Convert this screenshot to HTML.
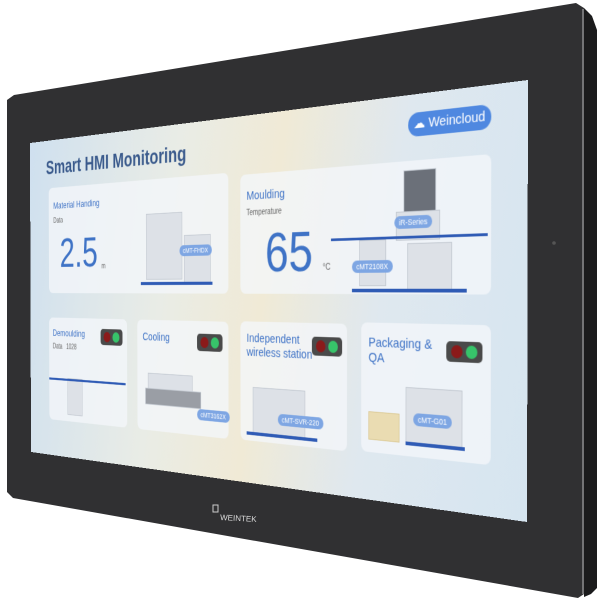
<!DOCTYPE html>
<html><head><meta charset="utf-8"><style>
html,body{margin:0;padding:0;background:#fff;}
#wrap{position:relative;width:600px;height:600px;overflow:hidden;}
svg.frame{position:absolute;left:0;top:0;}
#scr{position:absolute;left:0;top:0;width:800px;height:450px;transform-origin:0 0;
transform:matrix3d(0.42354,-0.1089,0,-0.00037681, 0.002458,0.69011,0,0.00000761, 0,0,1,0, 30,143,0,1);
background:linear-gradient(100deg,#cfe0ef 0%,#e9ece6 35%,#f0ead6 55%,#dfe8ef 75%,#d6e5f0 100%);
font-family:"Liberation Sans",sans-serif;overflow:hidden;}
.card{position:absolute;background:rgba(243,246,250,0.78);border-radius:8px;}
.t{position:absolute;color:#3f73c6;font-size:15px;}
.s{position:absolute;color:#666;font-size:10px;}
.big{position:absolute;color:#3f73c6;font-weight:300;}
.tl{position:absolute;width:44px;height:22px;background:#4a4a4a;border-radius:5px;}
.tl i{position:absolute;top:4px;width:14px;height:14px;border-radius:50%;}
.tl i.r{left:6px;background:#8b1a1a;}
.tl i.g{left:24px;background:#37c46a;}
.m{position:absolute;background:#dde1e7;border:1px solid #c4cad2;}
.bl{position:absolute;background:#2f5bb5;height:4px;}
.tag{position:absolute;background:#7ea6e3;color:#fff;font-size:9px;border-radius:8px;padding:2px 6px;}
</style></head><body><div id="wrap">
<svg class="frame" width="600" height="600">
<polygon points="584,8 592,16 597,30 597,588 591,594 584,597" fill="#1b1b1c"/>
<polygon points="7,100 14,95 576,3 584,8 584,594 578,598 13,498 7,492" fill="#303032"/>
<line x1="583" y1="9" x2="583" y2="594" stroke="#8a8a8c" stroke-width="1.5"/>
<circle cx="554" cy="243" r="1.8" fill="#555"/>
<rect x="213" y="505" width="5" height="7" fill="none" stroke="#ccc" stroke-width="1"/>
<text x="220" y="520" font-family="Liberation Sans" font-size="8" fill="#ddd" transform="rotate(3 220 520)">WEINTEK</text>
</svg>
<div id="scr">
<div style="position:absolute;left:36px;top:24px;font-size:27px;font-weight:bold;color:#3a5a8c;">Smart HMI Monitoring</div>
<div style="position:absolute;left:655px;top:20px;width:103px;height:26px;border-radius:13px;background:#4f88e0;color:#fff;font-size:15px;line-height:26px;text-align:center;">☁ Weincloud</div>

<div class="card" style="left:42px;top:68px;width:347px;height:150px;">
<div class="t" style="left:10px;top:18px;font-size:13px;">Material Handing</div>
<div class="s" style="left:10px;top:42px;">Data</div>
<div class="big" style="left:24px;top:60px;font-size:58px;">2.5</div>
<div class="s" style="left:112px;top:108px;">m</div>
<div class="m" style="left:200px;top:45px;width:65px;height:85px;"></div>
<div class="m" style="left:270px;top:75px;width:45px;height:60px;"></div>
<div class="bl" style="left:190px;top:135px;width:130px;"></div>
<div class="tag" style="left:262px;top:88px;">cMT-FHDX</div>
</div>

<div class="card" style="left:409px;top:72px;width:349px;height:146px;">
<div class="t" style="left:10px;top:18px;">Moulding</div>
<div class="s" style="left:10px;top:42px;">Temperature</div>
<div class="big" style="left:40px;top:58px;font-size:66px;">65</div>
<div class="s" style="left:128px;top:110px;">°C</div>
<div class="m" style="left:240px;top:10px;width:40px;height:45px;background:#6b7079;"></div>
<div class="m" style="left:230px;top:55px;width:55px;height:30px;"></div>
<div class="m" style="left:180px;top:85px;width:35px;height:50px;"></div>
<div class="m" style="left:245px;top:90px;width:55px;height:50px;"></div>
<div class="bl" style="left:140px;top:82px;width:205px;height:3px;"></div>
<div class="bl" style="left:170px;top:140px;width:150px;"></div>
<div class="tag" style="left:228px;top:60px;">iR-Series</div>
<div class="tag" style="left:170px;top:108px;">cMT2108X</div>
</div>

<div class="card" style="left:42px;top:253px;width:163px;height:146px;">
<div class="t" style="left:8px;top:14px;font-size:13px;">Demoulding</div>
<div class="s" style="left:8px;top:36px;">Data &nbsp; 1028</div>
<div class="tl" style="left:110px;top:14px;"><i class="r"></i><i class="g"></i></div>
<div class="m" style="left:40px;top:85px;width:30px;height:50px;"></div>
<div class="bl" style="left:0px;top:86px;width:160px;height:3px;"></div>
</div>
<div class="card" style="left:225px;top:253px;width:164px;height:146px;">
<div class="t" style="left:10px;top:14px;">Cooling</div>
<div class="tl" style="left:110px;top:16px;"><i class="r"></i><i class="g"></i></div>
<div class="m" style="left:20px;top:70px;width:80px;height:20px;"></div>
<div class="m" style="left:15px;top:90px;width:100px;height:20px;background:#9a9ea5;"></div>
<div class="tag" style="left:110px;top:112px;">cMT3162X</div>
</div>
<div class="card" style="left:409px;top:252px;width:163px;height:146px;">
<div class="t" style="left:10px;top:12px;">Independent<br>wireless station</div>
<div class="tl" style="left:112px;top:16px;"><i class="r"></i><i class="g"></i></div>
<div class="m" style="left:20px;top:80px;width:80px;height:55px;"></div>
<div class="bl" style="left:10px;top:135px;width:110px;"></div>
<div class="tag" style="left:60px;top:110px;">cMT-SVR-220</div>
</div>
<div class="card" style="left:592px;top:250px;width:166px;height:146px;">
<div class="t" style="left:10px;top:14px;">Packaging &amp;<br>QA</div>
<div class="tl" style="left:112px;top:18px;"><i class="r"></i><i class="g"></i></div>
<div class="m" style="left:60px;top:70px;width:70px;height:60px;"></div>
<div class="m" style="left:10px;top:100px;width:40px;height:30px;background:#eadcb2;border-color:#dccb98;"></div>
<div class="bl" style="left:60px;top:130px;width:75px;"></div>
<div class="tag" style="left:70px;top:98px;">cMT-G01</div>
</div>
</div>
</div></body></html>
